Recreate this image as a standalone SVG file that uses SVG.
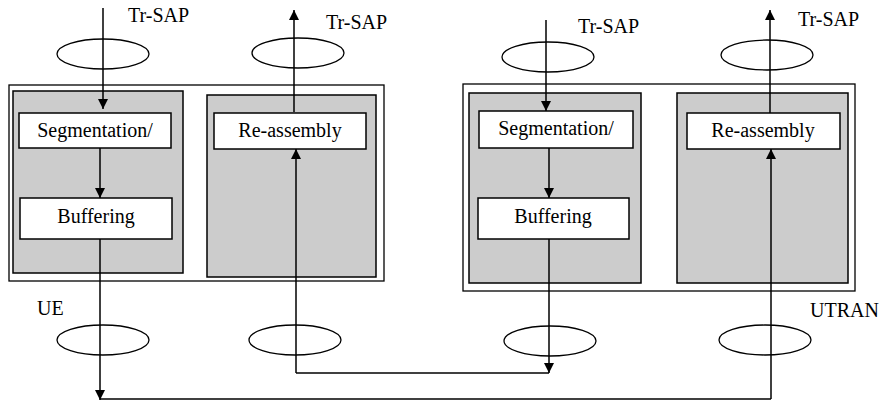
<svg xmlns="http://www.w3.org/2000/svg" width="883" height="403" viewBox="0 0 883 403">
<defs>
<marker id="ah" viewBox="0 0 10 10" refX="10" refY="5" markerWidth="10" markerHeight="10" markerUnits="userSpaceOnUse" orient="auto">
<path d="M0,0 L10,5 L0,10 Z" fill="#000"/>
</marker>
<style>
.outer{fill:#fff;stroke:#000;stroke-width:1.3}
.gray{fill:#cccccc;stroke:#000;stroke-width:1.5}
.box{fill:#fff;stroke:#000;stroke-width:1.5}
.ell{fill:none;stroke:#000;stroke-width:1.3}
.ln{fill:none;stroke:#000;stroke-width:1.5}
.arr{fill:none;stroke:#000;stroke-width:1.5;marker-end:url(#ah)}
text{font-family:"Liberation Serif","Times New Roman",serif;font-size:20px;fill:#000}
.c{text-anchor:middle}
</style>
</defs>
<g id="ue">
<rect class="outer" x="9" y="85" width="375" height="196"/>
<rect class="gray" x="13" y="91" width="170" height="182"/>
<rect class="gray" x="207" y="95" width="169" height="182"/>
<text x="37" y="315">UE</text>
</g>
<g id="ue-seg"><rect class="box" x="19" y="113" width="152" height="35"/><text class="c" x="95" y="137">Segmentation/</text></g>
<g id="ue-buf"><rect class="box" x="20" y="198" width="152" height="41"/><text class="c" x="96" y="223">Buffering</text></g>
<g id="ue-reas"><rect class="box" x="214" y="113" width="152" height="36"/><text class="c" x="290" y="137">Re-assembly</text></g>
<g id="utran">
<rect class="outer" x="463" y="84" width="392" height="207"/>
<rect class="gray" x="469" y="93" width="172" height="190"/>
<rect class="gray" x="677" y="93" width="171" height="190"/>
<text x="810" y="317">UTRAN</text>
</g>
<g id="utran-seg"><rect class="box" x="479" y="111" width="154" height="37"/><text class="c" x="556" y="135">Segmentation/</text></g>
<g id="utran-buf"><rect class="box" x="478" y="198" width="151" height="41"/><text class="c" x="553" y="223">Buffering</text></g>
<g id="utran-reas"><rect class="box" x="687" y="113" width="153" height="36"/><text class="c" x="763" y="137">Re-assembly</text></g>
<g id="saps">
<ellipse class="ell" cx="103" cy="54" rx="46" ry="15"/>
<ellipse class="ell" cx="298" cy="53" rx="46" ry="15"/>
<ellipse class="ell" cx="548" cy="57" rx="46" ry="15"/>
<ellipse class="ell" cx="767" cy="55" rx="46" ry="15"/>
<ellipse class="ell" cx="103" cy="340" rx="46" ry="15"/>
<ellipse class="ell" cx="295" cy="340" rx="46" ry="15"/>
<ellipse class="ell" cx="550" cy="341" rx="46" ry="15"/>
<ellipse class="ell" cx="765" cy="340" rx="46" ry="15"/>
<text x="128" y="22">Tr-SAP</text>
<text x="326" y="29">Tr-SAP</text>
<text x="578" y="33">Tr-SAP</text>
<text x="798" y="26">Tr-SAP</text>
</g>
<g id="connectors">
<line class="arr" x1="103" y1="8" x2="103" y2="109"/>
<line class="arr" x1="294" y1="112" x2="294" y2="10"/>
<line class="arr" x1="100" y1="148" x2="100" y2="198"/>
<polyline class="arr" points="100,239 100,400"/>
<line class="ln" x1="100" y1="399" x2="771" y2="399"/>
<line class="arr" x1="771" y1="399" x2="771" y2="149"/>
<line class="ln" x1="296" y1="373" x2="549" y2="373"/>
<line class="arr" x1="296" y1="373" x2="296" y2="149"/>
<line class="arr" x1="546" y1="20" x2="546" y2="111"/>
<line class="arr" x1="770" y1="113" x2="770" y2="10"/>
<line class="arr" x1="549" y1="148" x2="549" y2="198"/>
<line class="arr" x1="549" y1="239" x2="549" y2="373"/>
</g>
</svg>
